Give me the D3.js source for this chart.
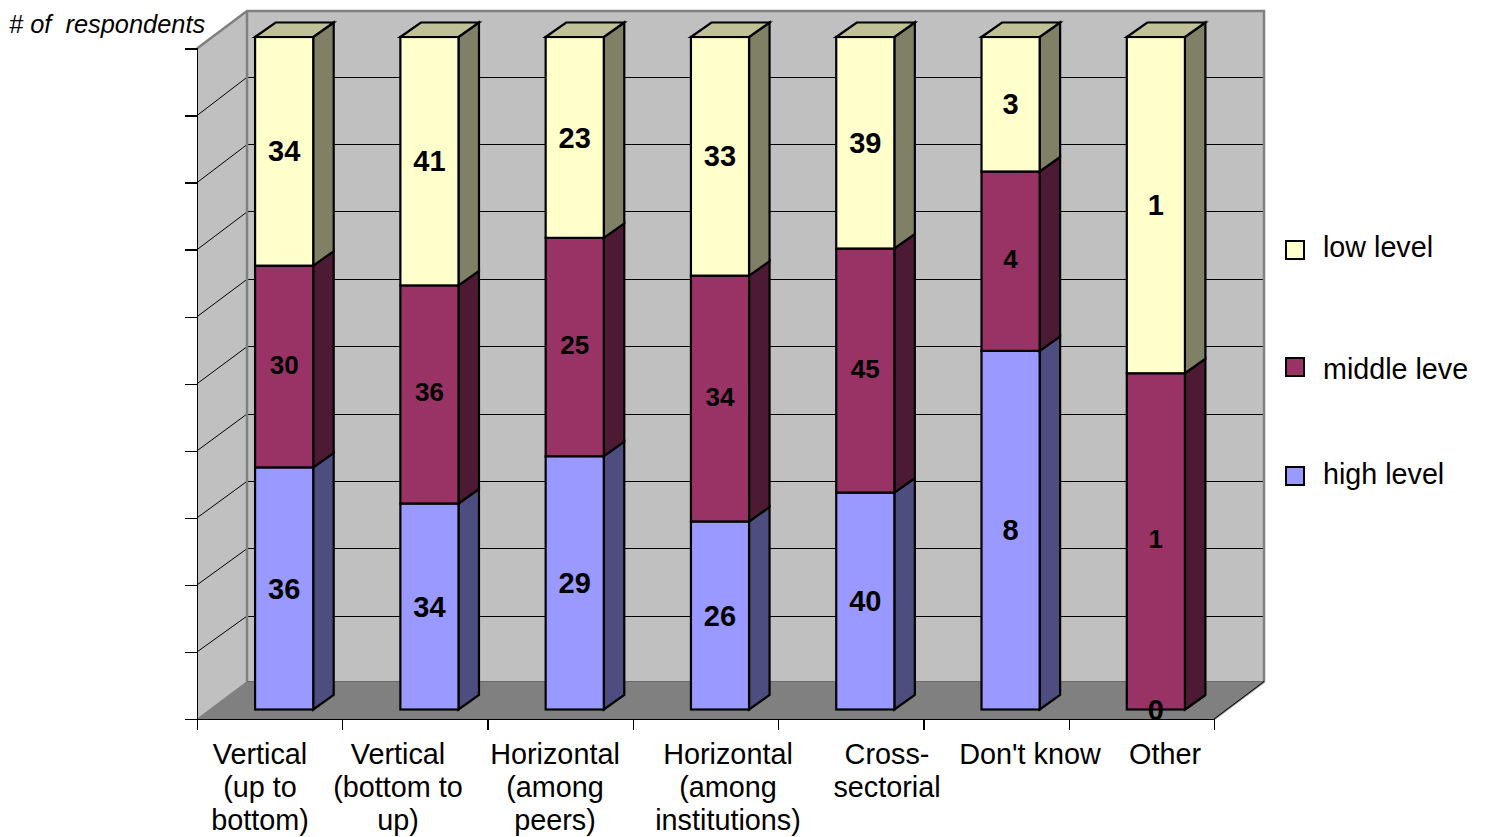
<!DOCTYPE html>
<html>
<head>
<meta charset="utf-8">
<script src="https://cdn.jsdelivr.net/npm/d3@7"></script>
<style>
html,body{margin:0;padding:0;background:#fff;overflow:hidden}
svg{display:block}
text{font-family:"Liberation Sans",Arial,sans-serif;fill:#000}
</style>
</head>
<body>
<svg id="c" width="1488" height="837"></svg>
<script>
const categories = [
  ["Vertical","(up to","bottom)"],
  ["Vertical","(bottom to","up)"],
  ["Horizontal","(among","peers)"],
  ["Horizontal","(among","institutions)"],
  ["Cross-","sectorial"],
  ["Don't know"],
  ["Other"]
];
const highLevel = [36,34,29,26,40,8,0];
const middleLevel = [30,36,25,34,45,4,1];
const lowLevel = [34,41,23,33,39,3,1];
const seriesNames = ["high level","middle leve","low level"];
const gridTicks = [0,.1,.2,.3,.4,.5,.6,.7,.8,.9,1];

// layout
const labelCenters = [260,398,555,728,887,1030,1165];
const front = {l:197,r:1214,t:48.5,b:719};
const wall = {dx:50,dy:-37.5};
const bar = {dx:20.5,dy:-14.5,top:37,bottom:709.5};
const colors = {
  "high level":{f:"#9999FF",s:"#4D4D80",t:"#7A7ACC"},
  "middle leve":{f:"#993366",s:"#4D1A33",t:"#7A2952"},
  "low level":{f:"#FFFFCC",s:"#808066",t:"#C0C099"}
};
const legendRows = [
  {name:"low level",box:241,base:257},
  {name:"middle leve",box:358,base:379},
  {name:"high level",box:467,base:484}
];

const rows = categories.map((c,i)=>({i,"high level":highLevel[i],"middle leve":middleLevel[i],"low level":lowLevel[i]}));
const stacked = d3.stack().keys(seriesNames).offset(d3.stackOffsetExpand)(rows);

const x = d3.scaleBand().domain(categories.map((c,i)=>i)).range([front.l+14.5,front.r+14.5]).paddingInner(0.6).paddingOuter(0.3);
const y = d3.scaleLinear().domain([0,1]).range([bar.bottom,bar.top]);
const yAxisScale = d3.scaleLinear().domain([0,1]).range([front.b,front.t]);
const yBackScale = d3.scaleLinear().domain([0,1]).range([683.4,9.9]);
const xAxisScale = d3.scaleLinear().domain([0,categories.length]).range([front.l,front.r]);

const svg = d3.select("#c");
const pts = a=>a.map(p=>p.join(",")).join(" ");

// walls
const W = svg.append("g");
const bl=[front.l+wall.dx,front.b+wall.dy], br=[front.r+wall.dx,front.b+wall.dy],
      tl=[front.l+wall.dx,front.t+wall.dy], tr=[front.r+wall.dx,front.t+wall.dy];
W.append("polygon").attr("points",pts([tl,tr,br,bl])).attr("fill","#C0C0C0");
W.append("polygon").attr("points",pts([[front.l,front.t],tl,bl,[front.l,front.b]])).attr("fill","#C0C0C0");
W.append("polygon").attr("points",pts([bl,br,[front.r,front.b],[front.l,front.b]])).attr("fill","#808080");

// grid
gridTicks.forEach(t=>{
  if(t>0&&t<1){
    const v=yAxisScale(t), b=yBackScale(t);
    W.append("line").attr("x1",bl[0]).attr("x2",br[0]).attr("y1",b).attr("y2",b).attr("stroke","#000").attr("stroke-width",1).attr("shape-rendering","crispEdges");
    W.append("line").attr("x1",front.l).attr("x2",bl[0]).attr("y1",v).attr("y2",b).attr("stroke","#000").attr("stroke-width",1);
  }
});
// wall frame
W.append("polyline").attr("points",pts([[front.l,front.t],tl,tr,br,[front.r,front.b]])).attr("fill","none").attr("stroke","#808080").attr("stroke-width",2.5);
W.append("line").attr("x1",tl[0]).attr("y1",tl[1]).attr("x2",bl[0]).attr("y2",bl[1]).attr("stroke","#808080").attr("stroke-width",2.5);
W.append("line").attr("x1",bl[0]).attr("y1",bl[1]).attr("x2",front.l).attr("y2",front.b).attr("stroke","#808080").attr("stroke-width",1);
W.append("line").attr("x1",bl[0]).attr("y1",bl[1]).attr("x2",br[0]).attr("y2",br[1]).attr("stroke","#6a6a6a").attr("stroke-width",1);
W.append("line").attr("x1",br[0]).attr("y1",br[1]).attr("x2",front.r).attr("y2",front.b).attr("stroke","#000").attr("stroke-width",1);

// axes
const gy = svg.append("g").attr("transform",`translate(${front.l},0)`)
  .call(d3.axisLeft(yAxisScale).tickValues(gridTicks).tickSize(12).tickFormat(""));
const gx = svg.append("g").attr("transform",`translate(0,${front.b})`)
  .call(d3.axisBottom(xAxisScale).ticks(categories.length).tickSize(11).tickFormat(""));
[gy,gx].forEach(g=>{g.selectAll("path,line").attr("stroke","#000").attr("stroke-width",1.4).attr("shape-rendering","crispEdges");});

// bars
const B = svg.append("g").attr("stroke","#000").attr("stroke-width",2.2).attr("stroke-linejoin","miter");
stacked.forEach(s=>{
  s.forEach(d=>{
    const x0=x(d.data.i), x1=x0+x.bandwidth(), y0=y(d[0]), y1=y(d[1]), c=colors[s.key];
    B.append("polygon").attr("points",pts([[x1,y1],[x1+bar.dx,y1+bar.dy],[x1+bar.dx,y0+bar.dy],[x1,y0]])).attr("fill",c.s);
    B.append("rect").attr("x",x0).attr("y",y1).attr("width",x1-x0).attr("height",y0-y1).attr("fill",c.f);
    if(s.key==="low level")
      B.append("polygon").attr("points",pts([[x0,y1],[x0+bar.dx,y1+bar.dy],[x1+bar.dx,y1+bar.dy],[x1,y1]])).attr("fill",c.t);
  });
});

// value labels
stacked.forEach(s=>{
  s.forEach(d=>{
    const mid = s.key==="middle leve";
    svg.append("text").attr("x",x(d.data.i)+x.bandwidth()/2).attr("y",(y(d[0])+y(d[1]))/2)
      .attr("dy",mid?"0.27em":"0.35em").attr("text-anchor","middle").attr("font-weight","bold")
      .attr("font-size",mid?26:29).text(d.data[s.key]);
  });
});

// category labels
categories.forEach((lines,i)=>{
  const t = svg.append("text").attr("text-anchor","middle").attr("font-size",28.8);
  lines.forEach((l,k)=>t.append("tspan").attr("x",labelCenters[i]).attr("y",764+k*33).text(l));
});

// legend
legendRows.forEach(r=>{
  svg.append("rect").attr("x",1286).attr("y",r.box).attr("width",18).attr("height",18)
    .attr("fill",colors[r.name].f).attr("stroke","#000").attr("stroke-width",2);
  svg.append("text").attr("x",1323).attr("y",r.base).attr("font-size",28.7).text(r.name);
});

// axis title
svg.append("text").attr("x",9).attr("y",33).attr("font-size",25.4).attr("font-style","italic").attr("xml:space","preserve").style("white-space","pre").text("# of  respondents");
</script>
</body>
</html>
